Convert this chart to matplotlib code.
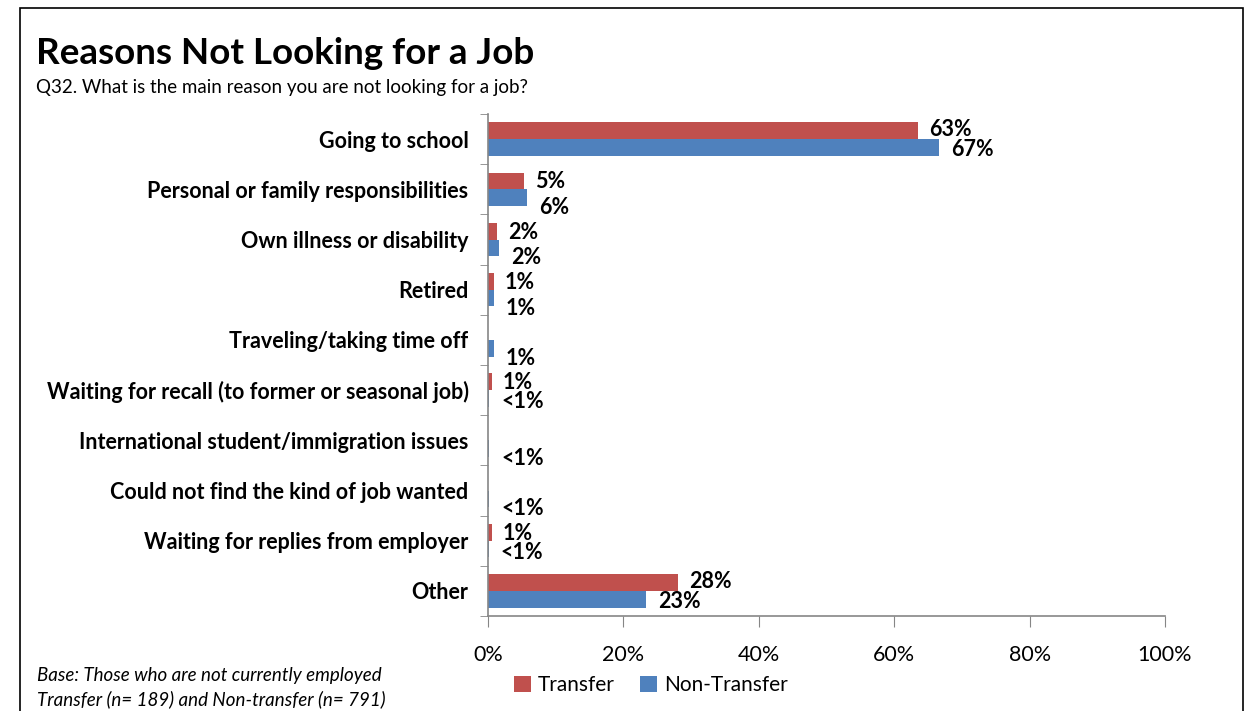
import matplotlib
matplotlib.use("Agg")
import matplotlib.pyplot as plt
import numpy as np
from matplotlib.patches import Rectangle
from matplotlib.ticker import FuncFormatter, FixedLocator

categories = [
    "Going to school",
    "Personal or family responsibilities",
    "Own illness or disability",
    "Retired",
    "Traveling/taking time off",
    "Waiting for recall (to former or seasonal job)",
    "International student/immigration issues",
    "Could not find the kind of job wanted",
    "Waiting for replies from employer",
    "Other",
]
transfer = [63.5, 5.3, 1.3, 0.9, 0.0, 0.6, 0.0, 0.0, 0.6, 28.1]
non_transfer = [66.6, 5.8, 1.6, 0.9, 0.9, 0.2, 0.2, 0.2, 0.1, 23.3]
transfer_labels = ["63%", "5%", "2%", "1%", "", "1%", "", "", "1%", "28%"]
non_transfer_labels = ["67%", "6%", "2%", "1%", "1%", "<1%", "<1%", "<1%", "<1%", "23%"]
series_names = ["Transfer", "Non-Transfer"]
xticks = [0, 20, 40, 60, 80, 100]

RED = "#C0504D"
BLUE = "#4F81BD"
FONT = ["Lato", "DejaVu Sans"]
plt.rcParams["font.family"] = FONT

W, H = 1256, 711
fig = plt.figure(figsize=(W / 100, H / 100), dpi=100)

# outer frame
fig.patches.append(Rectangle((20 / W, -0.05), (1243 - 20) / W, 1.05 - 8 / H,
                             transform=fig.transFigure, fill=False,
                             edgecolor="black", linewidth=1.2))

ax = fig.add_axes([488 / W, 1 - 616 / H, (1165 - 488) / W, (616 - 114) / H])

n = len(categories)
y = np.arange(n)
h = 0.333
ax.barh(y - h / 2, transfer, height=h, color=RED, label=series_names[0])
ax.barh(y + h / 2, non_transfer, height=h, color=BLUE, label=series_names[1])

ax.set_xlim(0, 100)
ax.set_ylim(n - 0.5, -0.5)

for i in range(n):
    big = non_transfer[i] >= 10
    if transfer_labels[i]:
        ax.annotate(transfer_labels[i], (transfer[i], y[i] - h / 2),
                    xytext=(11, 1 if big else -1), textcoords="offset pixels",
                    ha="left", va="center", fontsize=15.5, fontweight="bold")
    dy = -2 if big else -10
    if non_transfer_labels[i].startswith("<"):
        dy = -3 if transfer_labels[i] else -10
    ax.annotate(non_transfer_labels[i], (non_transfer[i], y[i] + h / 2),
                xytext=(12, dy), textcoords="offset pixels",
                ha="left", va="center", fontsize=15.5, fontweight="bold")

ax.set_xticks(xticks)
ax.xaxis.set_major_formatter(FuncFormatter(lambda v, p: f"{v:.0f}%"))
ax.tick_params(axis="x", direction="out", length=8, color="#868686",
               labelsize=15.5, pad=13)
ax.set_yticks(y)
ax.set_yticklabels(categories, fontsize=15.5, fontweight="bold")
ax.tick_params(axis="y", which="major", length=0, pad=14)
ax.yaxis.set_minor_locator(FixedLocator(np.arange(-0.5, n, 1.0)))
ax.tick_params(axis="y", which="minor", direction="out", length=6, color="#868686")

for s in ["top", "right"]:
    ax.spines[s].set_visible(False)
for s in ["left", "bottom"]:
    ax.spines[s].set_color("#868686")
    ax.spines[s].set_linewidth(1.2)

fig.text(36 / W, 1 - 53 / H, "Reasons Not Looking for a Job", fontsize=26.5,
         fontweight="bold", ha="left", va="center")
fig.text(36 / W, 1 - 88 / H, "Q32. What is the main reason you are not looking for a job?",
         fontsize=13.5, ha="left", va="center")
fig.text(37 / W, 1 - 675 / H, "Base: Those who are not currently employed",
         fontsize=13.5, style="italic", ha="left", va="center")
fig.text(37 / W, 1 - 699 / H, "Transfer (n= 189) and Non-transfer (n= 791)",
         fontsize=13.5, style="italic", ha="left", va="center")

leg = fig.legend(loc="center", bbox_to_anchor=(651 / W, 1 - 685 / H), ncol=2,
                 frameon=False, fontsize=15, handlelength=0.8, handleheight=0.8,
                 handletextpad=0.35, columnspacing=1.2, borderaxespad=0)

fig.savefig("out.png", dpi=100)
